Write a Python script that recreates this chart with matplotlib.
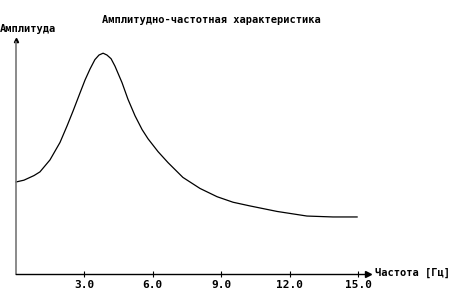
import matplotlib
matplotlib.use('Agg')
import matplotlib.pyplot as plt

freq = [0.00, 0.35, 0.79, 1.05, 1.49, 1.93, 2.24, 2.50, 2.81, 3.03, 3.25, 3.46,
        3.64, 3.82, 3.99, 4.17, 4.34, 4.65, 4.91, 5.22, 5.53, 5.79, 6.23, 6.67,
        7.32, 8.07, 8.82, 9.52, 10.26, 11.45, 12.76, 13.90, 14.96]
amp = [1.00, 1.02, 1.07, 1.11, 1.24, 1.43, 1.61, 1.77, 1.97, 2.11, 2.23, 2.33,
       2.38, 2.40, 2.38, 2.34, 2.26, 2.08, 1.90, 1.72, 1.57, 1.47, 1.33, 1.21,
       1.05, 0.93, 0.84, 0.78, 0.74, 0.68, 0.63, 0.62, 0.62]
xticks = [3.0, 6.0, 9.0, 12.0, 15.0]

plt.rcParams['font.family'] = ['DejaVu Sans Mono']

fig = plt.figure(figsize=(4.54, 3.08), dpi=100)
ax = fig.add_axes([0, 0, 1, 1])
ax.set_xlim(-16 / 22.8, (454 - 16) / 22.8)
ax.set_ylim(-(308 - 274) / 92, 274 / 92)

for s in ['top', 'right']:
    ax.spines[s].set_visible(False)
ax.spines['left'].set_position(('data', 0))
ax.spines['bottom'].set_position(('data', 0))
ax.spines['left'].set_bounds(0, 2.52)
ax.spines['bottom'].set_bounds(0, 15.4)
ax.spines['left'].set_color('#777777')
ax.spines['left'].set_linewidth(1.2)
ax.spines['bottom'].set_linewidth(1.0)

# arrow heads
ax.plot(15.45, 0, marker='>', color='black', markersize=4, clip_on=False)
ax.plot(0, 2.54, marker='^', color='black', markersize=3, clip_on=False)

ax.set_xticks(xticks)
ax.set_xticklabels([f'{t:.1f}' for t in xticks], fontsize=8, fontweight='bold')
ax.tick_params(axis='x', direction='inout', length=5, width=0.8, pad=2)
ax.set_yticks([])

ax.plot(freq, amp, color='black', linewidth=0.9)

fig.text(211 / 454, 1 - 20 / 308, 'Амплитудно-частотная характеристика',
         ha='center', va='center', fontsize=7.5, fontweight='bold')
fig.text(0 / 454, 1 - 29 / 308, 'Амплитуда', ha='left', va='center',
         fontsize=7.5, fontweight='bold')
fig.text(375 / 454, 1 - 273 / 308, 'Частота [Гц]', ha='left', va='center',
         fontsize=7.5, fontweight='bold')

fig.savefig('out.png', dpi=100)
